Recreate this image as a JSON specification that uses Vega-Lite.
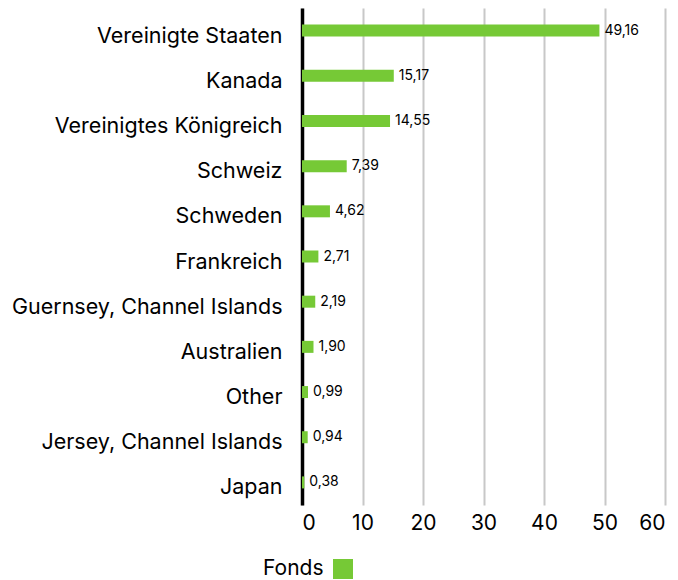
{
  "$schema": "https://vega.github.io/schema/vega-lite/v6.json",
  "width": 363,
  "height": 497,
  "autosize": {"type": "none"},
  "padding": {"left": 302, "top": 8, "right": 13, "bottom": 75},
  "background": "white",
  "config": {
    "view": {"stroke": null},
    "font": "Inter",
    "locale": {"number": {"decimal": ",", "thousands": ".", "grouping": [3], "currency": ["", " €"]}}
  },
  "data": {
    "values": [
      {"land": "Vereinigte Staaten", "wert": 49.16, "serie": "Fonds"},
      {"land": "Kanada", "wert": 15.17, "serie": "Fonds"},
      {"land": "Vereinigtes Königreich", "wert": 14.55, "serie": "Fonds"},
      {"land": "Schweiz", "wert": 7.39, "serie": "Fonds"},
      {"land": "Schweden", "wert": 4.62, "serie": "Fonds"},
      {"land": "Frankreich", "wert": 2.71, "serie": "Fonds"},
      {"land": "Guernsey, Channel Islands", "wert": 2.19, "serie": "Fonds"},
      {"land": "Australien", "wert": 1.90, "serie": "Fonds"},
      {"land": "Other", "wert": 0.99, "serie": "Fonds"},
      {"land": "Jersey, Channel Islands", "wert": 0.94, "serie": "Fonds"},
      {"land": "Japan", "wert": 0.38, "serie": "Fonds"}
    ]
  },
  "encoding": {
    "y": {
      "field": "land", "type": "nominal", "sort": null,
      "axis": {
        "title": null, "ticks": false, "labelFontSize": 21.5, "labelColor": "#000",
        "labelPadding": 20, "labelLimit": 320, "labelOffset": 6,
        "domain": true, "domainColor": "#000", "domainWidth": 3.5, "grid": false
      }
    },
    "x": {
      "field": "wert", "type": "quantitative",
      "scale": {"domain": [0, 60], "nice": false},
      "axis": {
        "title": null, "values": [0, 10, 20, 30, 40, 50, 60], "format": "d",
        "ticks": false, "domain": false, "labelFontSize": 21, "labelColor": "#000",
        "labelPadding": 7, "grid": true, "gridColor": "#c8c8c8", "gridWidth": 2
      }
    }
  },
  "layer": [
    {
      "mark": {"type": "bar", "size": 12},
      "encoding": {
        "color": {
          "field": "serie", "type": "nominal",
          "scale": {"range": ["#76c936"]},
          "legend": {
            "title": "Fonds", "titleOrient": "left", "titleFontSize": 21, "titleFontWeight": "normal",
            "titleColor": "#000", "titlePadding": 9, "labelExpr": "''",
            "symbolType": "square", "symbolSize": 400, "symbolOpacity": 1, "symbolStrokeWidth": 0,
            "orient": "none", "legendX": -39, "legendY": 551, "direction": "horizontal"
          }
        }
      }
    },
    {
      "mark": {"type": "text", "align": "left", "dx": 5, "fontSize": 14, "color": "#000"},
      "encoding": {
        "text": {"field": "wert", "type": "quantitative", "format": ".2f"}
      }
    }
  ]
}
